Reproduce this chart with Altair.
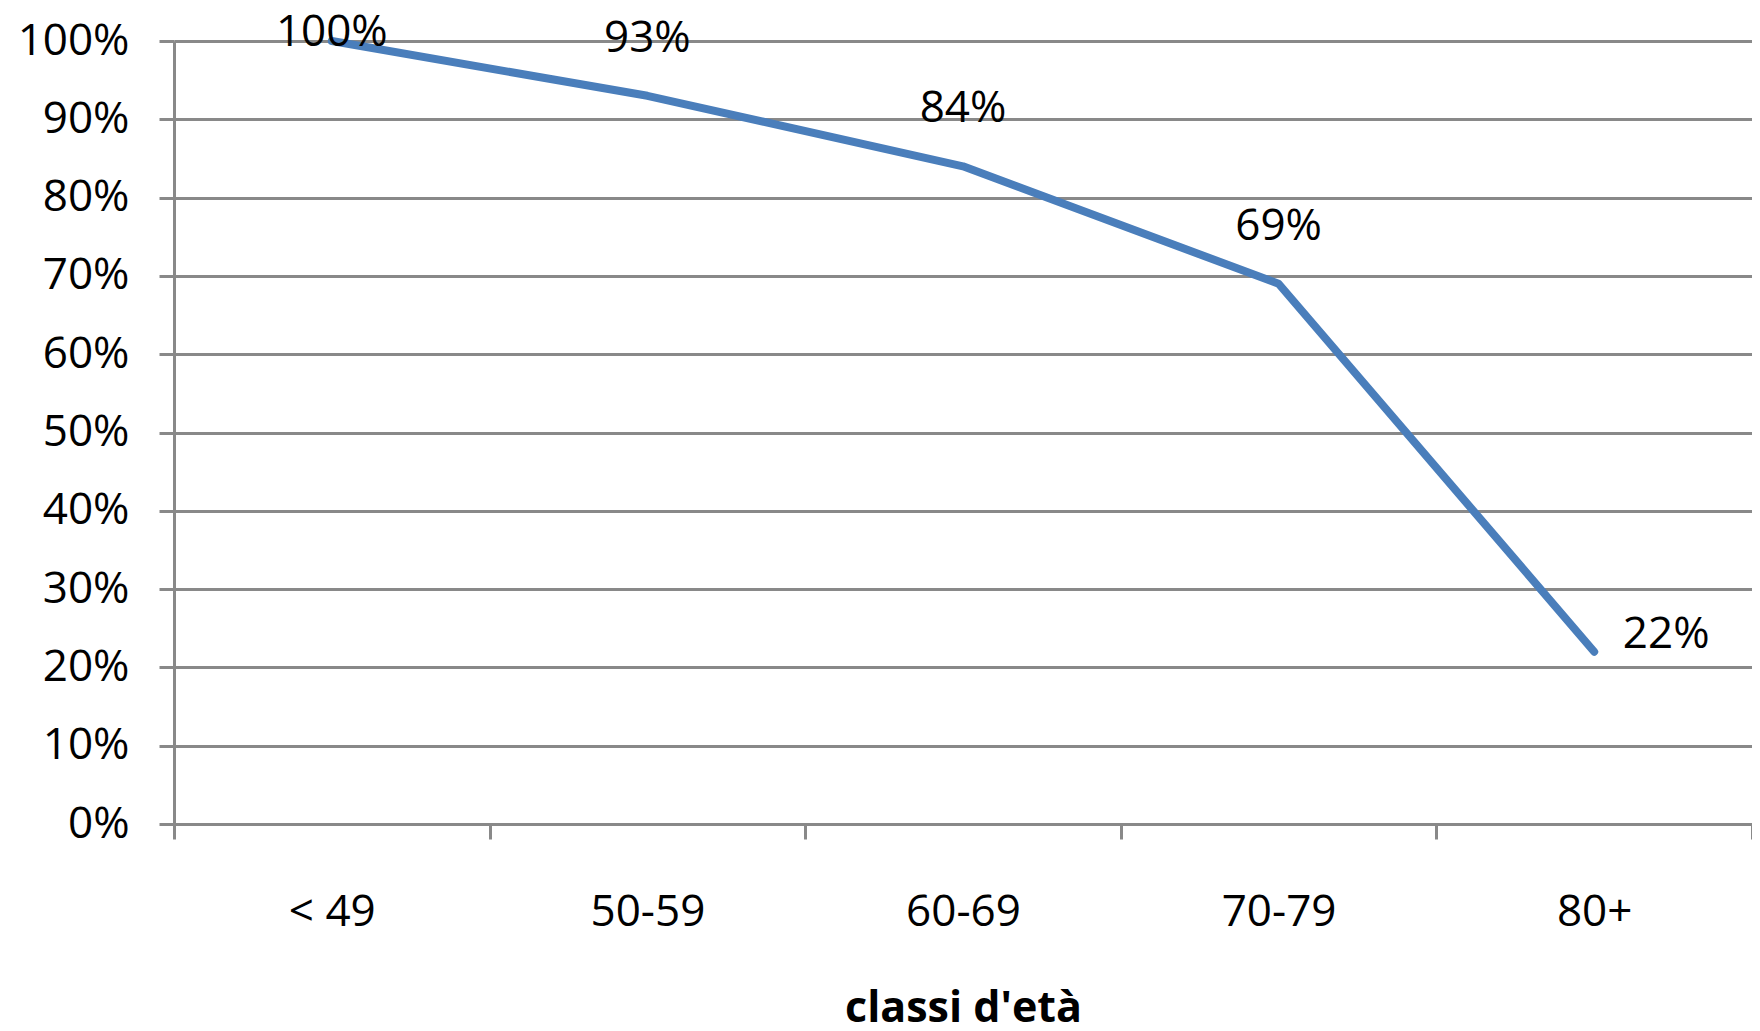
import altair as alt
import pandas as pd

categories = ["< 49", "50-59", "60-69", "70-79", "80+"]
values = [1.00, 0.93, 0.84, 0.69, 0.22]
y_ticks = [0, 0.1, 0.2, 0.3, 0.4, 0.5, 0.6, 0.7, 0.8, 0.9, 1.0]

df = pd.DataFrame({"cat": categories, "val": values})

FONT = "Open Sans"
GRID = "#898989"

x_enc = alt.X(
    "cat:N",
    sort=categories,
    scale=alt.Scale(paddingInner=0, paddingOuter=0),
    axis=alt.Axis(
        title="classi d'età",
        titleFont=FONT,
        titleFontSize=43,
        titleFontWeight="bold",
        titleColor="black",
        titleY=197,
        titleBaseline="alphabetic",
        labelAngle=0,
        labelFont=FONT,
        labelFontSize=44,
        labelColor="black",
        labelBaseline="alphabetic",
        labelPadding=86,
        tickBand="extent",
        tickSize=15,
        tickWidth=3,
        tickColor=GRID,
        domainColor=GRID,
        domainWidth=3,
        grid=False,
    ),
)

y_enc = alt.Y(
    "val:Q",
    scale=alt.Scale(domain=[0, 1]),
    axis=alt.Axis(
        title=None,
        values=y_ticks,
        format=".0%",
        labelFont=FONT,
        labelFontSize=44,
        labelColor="black",
        labelPadding=30,
        tickSize=15,
        tickWidth=3,
        tickColor=GRID,
        domainColor=GRID,
        domainWidth=3,
        grid=True,
        gridColor=GRID,
        gridWidth=3,
    ),
)

base = alt.Chart(df).encode(x=x_enc, y=y_enc)

line = base.mark_line(color="#4A7EBB", strokeWidth=8, strokeCap="round", strokeJoin="round")

txt = alt.Text("val:Q", format=".0%")
lab_top = base.transform_filter(
    alt.FieldOneOfPredicate(field="cat", oneOf=[categories[0]])
).mark_text(font=FONT, fontSize=44, color="black", dy=-8).encode(text=txt)
lab_mid = base.transform_filter(
    alt.FieldOneOfPredicate(field="cat", oneOf=categories[1:4])
).mark_text(font=FONT, fontSize=44, color="black", dy=-57).encode(text=txt)
lab_end = base.transform_filter(
    alt.FieldOneOfPredicate(field="cat", oneOf=[categories[4]])
).mark_text(font=FONT, fontSize=44, color="black", dx=72, dy=-17).encode(text=txt)

chart = (
    alt.layer(line, lab_top, lab_mid, lab_end)
    .properties(
        width=1578,
        height=783,
        autosize=alt.AutoSizeParams(type="none"),
        padding={"left": 166, "top": 33, "right": 0, "bottom": 198},
    )
    .configure_view(stroke=None)
    .configure(background="white")
)

chart.save("out.html", embed_options={"renderer": "svg", "actions": False})
